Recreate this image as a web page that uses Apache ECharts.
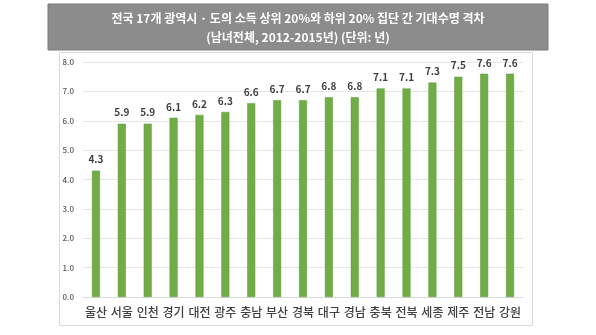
<!DOCTYPE html>
<html>
<head>
<meta charset="utf-8">
<script src="https://cdn.jsdelivr.net/npm/echarts@6/dist/echarts.min.js"></script>
<style>
  html, body { margin: 0; padding: 0; background: #fff; }
  #chart { width: 596px; height: 335px; }
</style>
</head>
<body>
<div id="chart"></div>
<script>
// 17 regions, life-expectancy gap between top and bottom 20% income groups (years)
const regions = ['울산', '서울', '인천', '경기', '대전', '광주', '충남', '부산', '경북', '대구', '경남', '충북', '전북', '세종', '제주', '전남', '강원'];
const gapYears = [4.3, 5.9, 5.9, 6.1, 6.2, 6.3, 6.6, 6.7, 6.7, 6.8, 6.8, 7.1, 7.1, 7.3, 7.5, 7.6, 7.6];
const titleLines = ['전국 17개 광역시 · 도의 소득 상위 20%와 하위 20% 집단 간 기대수명 격차', '(남녀전체, 2012-2015년) (단위: 년)'];

const font = '"Noto Sans CJK KR", "Noto Sans", sans-serif';
const chart = echarts.init(document.getElementById('chart'), null, { renderer: 'canvas' });

chart.setOption({
  animation: false,
  backgroundColor: '#fff',
  graphic: [
    // chart area frame
    { type: 'rect', shape: { x: 59.5, y: 52.5, width: 473, height: 273 },
      style: { fill: '#fff', stroke: '#d9d9d9', lineWidth: 1 }, z: -10 },
    // title banner
    { type: 'rect', shape: { x: 48, y: 4, width: 500, height: 46 },
      style: { fill: '#8c8c8c', stroke: '#7a7a7a', lineWidth: 1 }, z: 10 },
    { type: 'text', left: 'center', top: 9, z: 11,
      style: { text: titleLines.join('\n'), fill: '#fff', font: 'bold 12px ' + font,
               textAlign: 'center', lineHeight: 19 } }
  ],
  grid: { left: 83, right: 73, top: 62, bottom: 38 },
  xAxis: {
    type: 'category',
    data: regions,
    axisLine: { lineStyle: { color: '#d9d9d9' } },
    axisTick: { show: false },
    axisLabel: { color: '#404040', fontSize: 12, fontWeight: 500, fontFamily: font, margin: 9, interval: 0 }
  },
  yAxis: {
    type: 'value',
    min: 0, max: 8, interval: 1,
    axisLine: { show: false },
    axisTick: { show: false },
    splitLine: { lineStyle: { color: '#e6e6e6' } },
    axisLabel: { color: '#595959', fontSize: 8, fontWeight: 500, fontFamily: font, margin: 9,
                 formatter: v => v.toFixed(1) }
  },
  series: [{
    type: 'bar',
    data: gapYears,
    barWidth: 8,
    itemStyle: { color: '#70ad47', borderColor: '#5e9a3a', borderWidth: 0.5 },
    label: { show: true, position: 'top', distance: 6, color: '#404040',
             fontSize: 10, fontWeight: 'bold', fontFamily: font,
             formatter: p => p.value.toFixed(1) }
  }]
});
</script>
</body>
</html>
